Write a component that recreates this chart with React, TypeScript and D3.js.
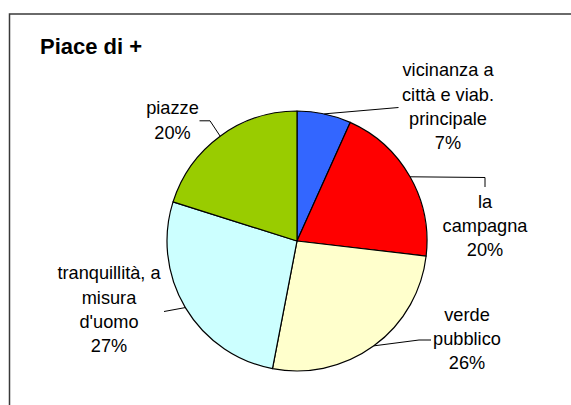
import * as d3 from 'd3';
import React, { useEffect, useRef } from 'react';

const WIDTH = 571;
const HEIGHT = 405;

const title = 'Piace di +';
const categories = [
  'vicinanza a città e viab. principale',
  'la campagna',
  'verde pubblico',
  "tranquillità, a misura d'uomo",
  'piazze',
];
const labelLines = [
  ['vicinanza a', 'città e viab.', 'principale'],
  ['la', 'campagna'],
  ['verde', 'pubblico'],
  ['tranquillità, a', 'misura', "d'uomo"],
  ['piazze'],
];
const values = [10, 30, 39, 40, 30];
const colors = ['#3366FF', '#FF0000', '#FFFFCC', '#CCFFFF', '#99CC00'];

// where each label sits (x = centre, y = baseline of first line) and the
// bend points of its leader line, outward from the pie edge
const labelLayout = [
  { x: 448, y: 76.3, leader: [[398.5, 107.5]] },
  { x: 485, y: 207.7, leader: [[485, 177.5], [485, 187]] },
  { x: 467, y: 320.8, leader: [[419, 340], [431, 340]] },
  { x: 109, y: 279.4, leader: [[164, 311.5]] },
  { x: 172.5, y: 114.3, leader: [[210, 120.8], [199.5, 120.8]] },
];

const cx = 297;
const cy = 241;
const radius = 130;
const lineHeight = 24.2;

function PieChart() {
  const svgRef = useRef<SVGSVGElement>(null);

  useEffect(() => {
    const svg = d3.select(svgRef.current);
    svg.selectAll('*').remove();

    // chart frame (only top and left edges fall inside the picture)
    svg
      .append('rect')
      .attr('x', 9.5)
      .attr('y', 14)
      .attr('width', 700)
      .attr('height', 600)
      .attr('fill', '#fff')
      .attr('stroke', '#3a3a3a')
      .attr('stroke-width', 1.5);

    svg
      .append('text')
      .attr('x', 40)
      .attr('y', 53.5)
      .attr('font-family', 'Liberation Sans, Arial, sans-serif')
      .attr('font-size', 22)
      .attr('font-weight', 'bold')
      .attr('fill', '#000')
      .text(title);

    const total = d3.sum(values);
    const pie = d3
      .pie<number>()
      .sort(null)
      .value(d => d);
    const arcs = pie(values);
    const arc = d3.arc<d3.PieArcDatum<number>>().innerRadius(0).outerRadius(radius);
    const edge = d3.arc<d3.PieArcDatum<number>>().innerRadius(radius).outerRadius(radius);

    const g = svg.append('g').attr('transform', `translate(${cx},${cy})`);

    g.selectAll('.slice')
      .data(arcs)
      .join('path')
      .attr('class', 'slice')
      .attr('d', arc)
      .attr('fill', (d, i) => colors[i])
      .attr('stroke', '#000')
      .attr('stroke-width', 1.2)
      .attr('stroke-linejoin', 'round')
      .append('title')
      .text((d, i) => categories[i]);

    // leader lines from the middle of each slice's rim to its label
    const line = d3.line();
    svg
      .selectAll('.leader')
      .data(arcs)
      .join('path')
      .attr('class', 'leader')
      .attr('fill', 'none')
      .attr('stroke', '#000')
      .attr('stroke-width', 1)
      .attr('d', (d, i) => {
        const [ex, ey] = edge.centroid(d);
        const pts: [number, number][] = [[cx + ex, cy + ey]];
        labelLayout[i].leader.forEach(p => pts.push([p[0], p[1]]));
        return line(pts);
      });

    const labels = svg
      .selectAll('.label')
      .data(arcs)
      .join('text')
      .attr('class', 'label')
      .attr('font-family', 'Liberation Sans, Arial, sans-serif')
      .attr('font-size', 18.2)
      .attr('fill', '#000')
      .attr('text-anchor', 'middle');

    labels.each(function (d, i) {
      const t = d3.select(this);
      const lines = [...labelLines[i], `${Math.round((d.data / total) * 100)}%`];
      lines.forEach((s, k) => {
        t.append('tspan')
          .attr('x', labelLayout[i].x)
          .attr('y', labelLayout[i].y + k * lineHeight)
          .text(s);
      });
    });
  }, []);

  return (
    <svg
      ref={svgRef}
      width={WIDTH}
      height={HEIGHT}
      style={{ position: 'absolute', left: 0, top: 0, background: '#fff' }}
    />
  );
}

export default function App() {
  return <PieChart />;
}
